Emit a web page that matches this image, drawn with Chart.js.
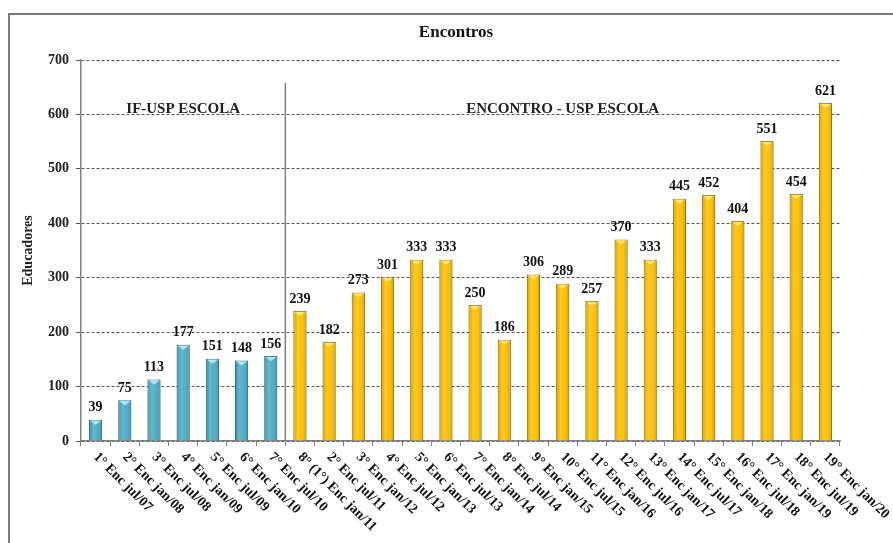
<!DOCTYPE html>
<html>
<head>
<meta charset="utf-8">
<script src="https://cdn.jsdelivr.net/npm/chart.js@4/dist/chart.umd.min.js"></script>
<style>
  html, body { margin: 0; padding: 0; background: #fff; }
  #wrap { width: 893px; height: 543px; position: relative; }
</style>
</head>
<body>
<div id="wrap"><canvas id="c" width="893" height="543"></canvas></div>
<script>
const categories = ["1° Enc jul/07","2° Enc jan/08","3° Enc jul/08","4° Enc jan/09","5° Enc jul/09","6° Enc jan/10","7° Enc jul/10","8° (1°) Enc jan/11","2° Enc jul/11","3° Enc jan/12","4° Enc jul/12","5° Enc jan/13","6° Enc jul/13","7° Enc jan/14","8° Enc jul/14","9° Enc jan/15","10° Enc jul/15","11° Enc jan/16","12° Enc jul/16","13° Enc jan/17","14° Enc jul/17","15° Enc jan/18","16° Enc jul/18","17° Enc jan/19","18° Enc jul/19","19° Enc jan/20"];
const educadores = [39,75,113,177,151,148,156,239,182,273,301,333,333,250,186,306,289,257,370,333,445,452,404,551,454,621];
const groupNames = ["IF-USP ESCOLA", "ENCONTRO - USP ESCOLA"];
const groupSizes = [7, 19];
const yTicks = [0,100,200,300,400,500,600,700];

const SERIF = '"Liberation Serif", "Times New Roman", serif';
const BLUE = '#4BACC6', BLUE_D = '#2E7F95';
const GOLD = '#FFC000', GOLD_D = '#B88A00';

const isFirstGroup = i => i < groupSizes[0];

const framePlugin = {
  id: 'frame',
  beforeDraw(chart) {
    const ctx = chart.ctx;
    ctx.save();
    ctx.fillStyle = '#fff';
    ctx.fillRect(0, 0, chart.width, chart.height);
    ctx.strokeStyle = '#7a7a7a';
    ctx.lineWidth = 2;
    ctx.beginPath();
    ctx.moveTo(9, chart.height);
    ctx.lineTo(9, 14);
    ctx.lineTo(chart.width, 14);
    ctx.stroke();
    ctx.restore();
  }
};

const decoPlugin = {
  id: 'deco',
  afterDatasetsDraw(chart) {
    const ctx = chart.ctx;
    const meta = chart.getDatasetMeta(0);
    ctx.save();
    meta.data.forEach((bar, i) => {
      const left = bar.x - bar.width / 2, right = bar.x + bar.width / 2;
      const g = ctx.createLinearGradient(left, 0, right, 0);
      g.addColorStop(0, 'rgba(0,0,0,0.15)');
      g.addColorStop(0.35, 'rgba(255,255,255,0.15)');
      g.addColorStop(0.6, 'rgba(255,255,255,0.03)');
      g.addColorStop(1, 'rgba(0,0,0,0.22)');
      ctx.fillStyle = g;
      ctx.fillRect(left, bar.y, bar.width, bar.base - bar.y);
      ctx.fillStyle = isFirstGroup(i) ? 'rgba(190,240,255,0.85)' : 'rgba(255,235,130,0.85)';
      ctx.beginPath();
      ctx.moveTo(left + 1, bar.y + 1);
      ctx.lineTo(right - 1, bar.y + 1);
      ctx.lineTo(bar.x, bar.y + 5);
      ctx.closePath();
      ctx.fill();
    });
    ctx.fillStyle = '#111';
    ctx.font = 'bold 14px ' + SERIF;
    ctx.textAlign = 'center';
    ctx.textBaseline = 'bottom';
    meta.data.forEach((bar, i) => {
      ctx.fillText(String(educadores[i]), bar.x, bar.y - 5);
    });
    ctx.restore();
  },
  afterDraw(chart) {
    const ctx = chart.ctx;
    const xs = chart.scales.x, ys = chart.scales.y;
    ctx.save();
    const sepX = xs.getPixelForValue(groupSizes[0] - 0.5);
    ctx.strokeStyle = '#808080';
    ctx.lineWidth = 1.5;
    ctx.beginPath();
    ctx.moveTo(sepX, ys.getPixelForValue(658));
    ctx.lineTo(sepX, ys.getPixelForValue(0));
    ctx.stroke();
    ctx.fillStyle = '#222';
    ctx.font = 'bold 15px ' + SERIF;
    ctx.textAlign = 'center';
    ctx.textBaseline = 'middle';
    const gy = ys.getPixelForValue(610);
    ctx.fillText(groupNames[0], (xs.left + sepX) / 2, gy);
    ctx.fillText(groupNames[1], (sepX + xs.right) / 2, gy);
    ctx.fillStyle = '#111';
    ctx.font = 'bold 14px ' + SERIF;
    ctx.textAlign = 'left';
    ctx.textBaseline = 'middle';
    categories.forEach((lab, i) => {
      const x = xs.getPixelForValue(i);
      ctx.save();
      ctx.translate(x, xs.top + 14);
      ctx.rotate(Math.PI / 4);
      ctx.fillText(lab, 0, 0);
      ctx.restore();
    });
    ctx.restore();
  }
};

new Chart(document.getElementById('c'), {
  type: 'bar',
  data: {
    labels: categories,
    datasets: [{
      label: 'Educadores',
      data: educadores,
      backgroundColor: educadores.map((v, i) => isFirstGroup(i) ? BLUE : GOLD),
      borderColor: educadores.map((v, i) => isFirstGroup(i) ? BLUE_D : GOLD_D),
      borderWidth: 1,
      barPercentage: 0.9,
      categoryPercentage: 0.5
    }]
  },
  options: {
    responsive: false,
    devicePixelRatio: 1,
    animation: false,
    layout: { padding: { left: 20, top: 60, right: 53, bottom: 0 } },
    plugins: {
      legend: { display: false },
      tooltip: { enabled: false },
      title: { display: false }
    },
    scales: {
      x: {
        offset: true,
        ticks: { display: false },
        grid: {
          offset: true,
          drawOnChartArea: false,
          drawTicks: true,
          tickLength: 5,
          color: '#808080'
        },
        border: { color: '#808080', width: 1.5 },
        afterFit(scale) { scale.height = 102; }
      },
      y: {
        min: 0,
        max: 700,
        afterBuildTicks(scale) { scale.ticks = yTicks.map(v => ({ value: v })); },
        ticks: {
          color: '#222',
          font: { family: SERIF, size: 14, weight: 'bold' },
          padding: 7
        },
        grid: {
          color: '#555',
          lineWidth: 1,
          tickLength: 5
        },
        border: { color: '#808080', width: 1.5, display: true, dash: [3, 2] },
        title: {
          display: true,
          text: 'Educadores',
          color: '#222',
          font: { family: SERIF, size: 14, weight: 'bold' },
          padding: { top: 0, bottom: 6 }
        },
        afterFit(scale) { scale.width = 61; }
      }
    }
  },
  plugins: [framePlugin, decoPlugin, {
    id: 'titleText',
    afterDraw(chart) {
      const ctx = chart.ctx;
      ctx.save();
      ctx.fillStyle = '#111';
      ctx.font = 'bold 17px ' + SERIF;
      ctx.textAlign = 'center';
      ctx.textBaseline = 'middle';
      ctx.fillText('Encontros', 456, 33);
      ctx.restore();
    }
  }]
});
</script>
</body>
</html>
